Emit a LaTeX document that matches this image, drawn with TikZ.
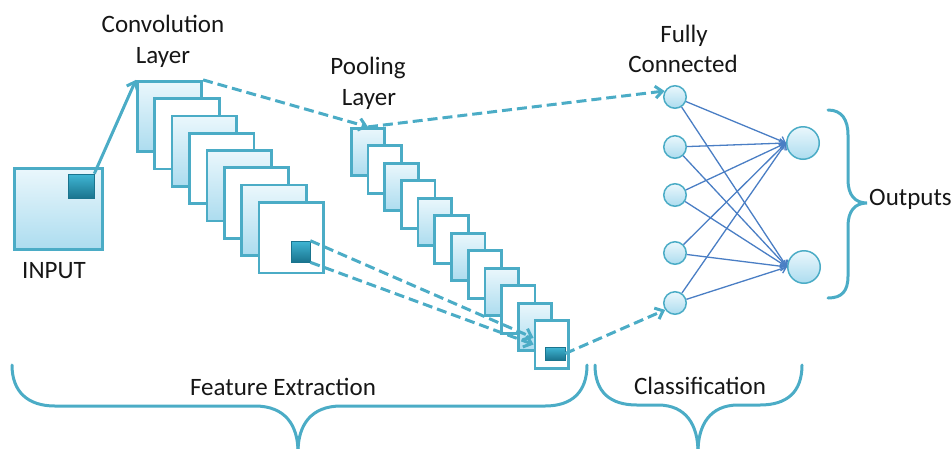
\documentclass[tikz,border=0pt]{standalone}
\usepackage{fontspec}
\setmainfont{Carlito}
\usetikzlibrary{arrows.meta,calc}
\definecolor{tealL}{RGB}{75,172,198}
\definecolor{fillTop}{RGB}{234,247,252}
\definecolor{fillBot}{RGB}{172,220,239}
\definecolor{sqTop}{RGB}{64,182,212}
\definecolor{sqBot}{RGB}{26,116,142}
\definecolor{fcblue}{RGB}{74,126,196}
\definecolor{txt}{RGB}{22,22,22}
\begin{document}
\begin{tikzpicture}[x=1pt,y=-1pt,
  lbl/.style={font=\fontsize{25}{30}\selectfont, text=txt, inner sep=0pt},
  boxbase/.style={draw=tealL, line width=2.7pt, inner sep=0pt, rectangle},
  gfill/.style={top color=fillTop, bottom color=fillBot},
  convF/.style={boxbase, gfill, minimum width=64.5pt, minimum height=70.5pt},
  convW/.style={boxbase, fill=white, minimum width=64.5pt, minimum height=70.5pt},
  poolF/.style={boxbase, gfill, minimum width=33.5pt, minimum height=47.5pt},
  poolW/.style={boxbase, fill=white, minimum width=33.5pt, minimum height=47.5pt},
  darksq/.style={draw=sqBot, line width=0.6pt, top color=sqTop, bottom color=sqBot, inner sep=0pt, rectangle},
  neuron/.style={circle, draw=tealL, line width=1.5pt, top color=fillTop, bottom color=fillBot, inner sep=0pt},
  solidarrow/.style={draw=tealL, line width=3pt, -{Straight Barb[length=7pt,width=12pt]}},
  dasharrow/.style={draw=tealL, line width=3pt, dash pattern=on 10pt off 5pt, -{Straight Barb[length=7pt,width=12pt]}},
  fcedge/.style={draw=fcblue, line width=1.3pt, -{Straight Barb[length=5pt,width=9pt]}},
  bracket/.style={draw=tealL, line width=3pt, line cap=round}
]
\useasboundingbox (0,0) rectangle (952,448);

% input
\node[boxbase, gfill, minimum width=88.5pt, minimum height=81.5pt] (input) at (58.5,209) {};
\node[darksq, minimum width=26pt, minimum height=24pt] (insq) at (81,186) {};
\node[lbl, anchor=base] (tInput) at (54,278) {INPUT};

% convolution layers
\foreach \i in {1,...,8}{
  \pgfmathsetmacro\cx{169.5+17.4*(\i-1)}
  \pgfmathsetmacro\cy{116.5+17.3*(\i-1)}
  \ifodd\i
    \node[convF] (conv\i) at (\cx,\cy) {};
  \else
    \node[convW] (conv\i) at (\cx,\cy) {};
  \fi
}
\node[darksq, minimum width=19pt, minimum height=21pt] (convsq) at (300.5,251.5) {};

% pooling layers
\foreach \i in {1,...,12}{
  \pgfmathsetmacro\cx{368+16.7*(\i-1)}
  \pgfmathsetmacro\cy{152+17.5*(\i-1)}
  \ifodd\i
    \node[poolF] (pool\i) at (\cx,\cy) {};
  \else
    \node[poolW] (pool\i) at (\cx,\cy) {};
  \fi
}
\node[darksq, minimum width=20pt, minimum height=13pt] (poolsq) at (555,353.5) {};

% fully connected
\node[neuron, minimum size=22.5pt] (fc1) at (675,97) {};
\node[neuron, minimum size=22.5pt] (fc2) at (675,147) {};
\node[neuron, minimum size=22.5pt] (fc3) at (675,195) {};
\node[neuron, minimum size=22.5pt] (fc4) at (675,253) {};
\node[neuron, minimum size=22.5pt] (fc5) at (675,303) {};
\node[neuron, minimum size=32.5pt] (outA) at (803,143) {};
\node[neuron, minimum size=32.5pt] (outB) at (804,267) {};

\foreach \i in {1,...,5}{
  \draw[fcedge] (fc\i) -- (outA.west);
  \draw[fcedge] (fc\i) -- (outB.west);
}

% connectors
\draw[solidarrow] (insq.north east) -- (conv1.north west);
\draw[dasharrow] (conv1.north east) -- (pool1.north);
\draw[dasharrow] (pool1.north) -- (fc1.150);
\draw[dasharrow] (convsq.north east) -- (pool12.160);
\draw[dasharrow] (convsq.south east) -- (pool12.west);
\draw[dasharrow] (poolsq.east) -- (fc5.215);

% labels
\node[lbl, anchor=base] (tConv1) at (163,32) {Convolution};
\node[lbl, anchor=base] (tConv2) at (163,63) {Layer};
\node[lbl, anchor=base] (tPool1) at (368,74) {Pooling};
\node[lbl, anchor=base] (tPool2) at (369,105) {Layer};
\node[lbl, anchor=base] (tFc1) at (684,42) {Fully};
\node[lbl, anchor=base] (tFc2) at (683,72) {Connected};
\node[lbl, anchor=base west] (tOut) at (869,205) {Outputs};
\node[lbl, anchor=base] (tFeat) at (283,395) {Feature Extraction};
\node[lbl, anchor=base] (tClass) at (700,394) {Classification};

% braces
\draw[bracket] (12,365) .. controls (12,392) and (28,406) .. (55,406) -- (255,406)
  .. controls (285,406) and (298,425) .. (298,452);
\draw[bracket] (298,452) .. controls (298,425) and (311,406) .. (341,406) -- (545,406)
  .. controls (572,406) and (587,392) .. (587,365);
\draw[bracket] (595,365) .. controls (595,392) and (610,405) .. (637,405) -- (658,405)
  .. controls (686,405) and (698,425) .. (698,452);
\draw[bracket] (698,452) .. controls (698,425) and (710,405) .. (738,405) -- (760,405)
  .. controls (787,405) and (802,392) .. (802,365);
\draw[bracket] (828,110) .. controls (842,110) and (848,120) .. (848,135) -- (848,180)
  .. controls (848,195) and (855,203) .. (867,203)
  .. controls (855,203) and (848,211) .. (848,226) -- (848,276)
  .. controls (848,291) and (842,298) .. (828,298);
\end{tikzpicture}
\end{document}
